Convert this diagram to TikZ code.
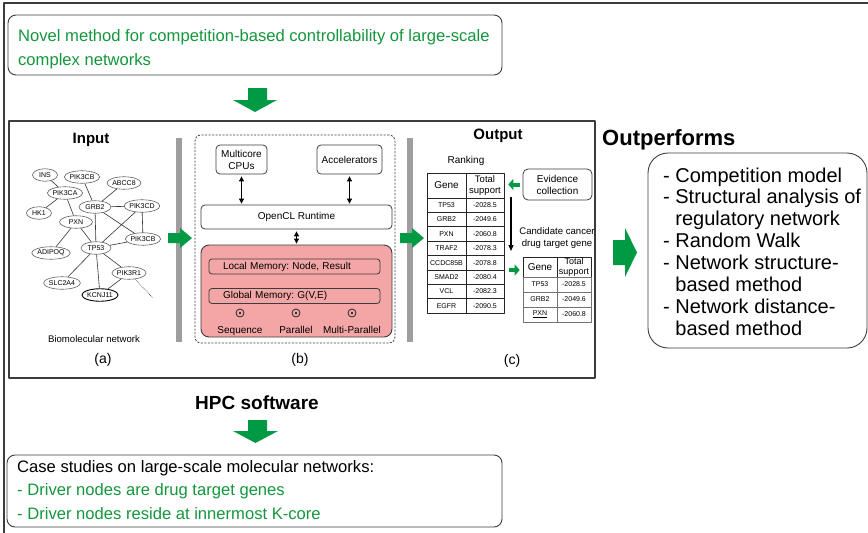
\documentclass[tikz,border=0pt]{standalone}
\usepackage{fontspec}
\setmainfont{Liberation Sans}
\usetikzlibrary{arrows.meta, shapes, positioning}

\definecolor{arrowgreen}{RGB}{0,153,68}
\definecolor{textgreen}{RGB}{20,150,60}
\definecolor{mempink}{RGB}{244,166,166}
\definecolor{bargray}{RGB}{158,158,158}
\definecolor{edgegray}{RGB}{60,60,60}

\newcommand{\pxfont}[2]{\fontsize{#1}{#2}\selectfont}

\begin{document}
\frenchspacing
\begin{tikzpicture}[
            x = 1pt, y = -1pt,
            line join = round,
            roundbox/.style = {draw = edgegray, line width = 0.9pt, rounded corners = 8pt, inner sep = 0pt},
            heading/.style = {font = \pxfont{15}{18}\bfseries},
            smallbox/.style = {draw = edgegray, line width = 0.8pt, rounded corners = 4pt,
                               align = center, inner sep = 0pt, font = \pxfont{10}{12}},
            membox/.style = {draw = edgegray, line width = 0.8pt, fill = mempink, rounded corners = 3pt,
                             minimum width = 171pt, minimum height = 15pt, text width = 143pt,
                             inner xsep = 14pt, inner ysep = 0pt, align = left, font = \pxfont{10}{12}},
            gene/.style = {ellipse, draw = gray!75!black, line width = 0.6pt, inner sep = 0pt,
                           minimum height = 12.5pt, font = \pxfont{7}{8}},
            link/.style = {draw = black!80, line width = 0.6pt},
            cell/.style = {draw = black!85, line width = 0.6pt, inner sep = 0pt, font = \pxfont{7}{8}},
            bothway/.style = {{Triangle[length = 5pt, width = 5pt]}-{Triangle[length = 5pt, width = 5pt]},
                              line width = 0.9pt, shorten < = 2pt, shorten > = 1pt},
            garrow/.style = {fill = arrowgreen},
            gsmall/.style = {draw = arrowgreen, line width = 4pt, -{Triangle[length = 5pt, width = 11pt]}}
        ]

        \useasboundingbox (0,0) rectangle (868,533);
        \draw[edgegray, line width = 1.5pt] (868,3) -- (4,3) -- (4,533);

        % top claim
        \node[roundbox, minimum width = 494pt, minimum height = 60pt] (novel) at (255,45) {};
        \node[anchor = west, align = left, inner sep = 0pt, text = textgreen, font = \pxfont{16.6}{24}] (noveltxt) at (18,49.5)
             {Novel method for competition-based controllability of large-scale\\complex networks};
        \fill[garrow] (248,88) -- (267,88) -- (267,100) -- (277,100) -- (255,112) -- (233,100) -- (248,100) -- cycle;

        % software panel
        \node[draw = edgegray, line width = 1.2pt, minimum width = 586pt, minimum height = 257pt,
              inner sep = 0pt] (hpc) at (302,249.5) {};
        \node[heading] (input) at (91,140) {Input};
        \node[heading] (output) at (498,136) {Output};
        \fill[bargray] (176,138) rectangle (182,342);
        \fill[bargray] (407,138) rectangle (413,342);

        % (a) network
        \foreach \n/\p/\t/\w in {ins/{45,175}/INS/25pt, pik3cb/{82,177}/PIK3CB/30pt, abcc8/{124,183}/ABCC8/34pt,
                                 pik3ca/{65,193}/PIK3CA/33pt, grb2/{95,207}/GRB2/32pt, pik3cd/{142,206}/PIK3CD/31pt,
                                 hk1/{39,213}/HK1/25pt, pxn/{76,222}/PXN/33pt, pik3cb2/{143,239}/PIK3CB/32pt,
                                 tp53/{96,248}/TP53/30pt, adipoq/{51,253}/ADIPOQ/35pt, pik3r1/{129,273}/PIK3R1/31pt,
                                 slc2a4/{62,283}/SLC2A4/35pt}
            \node[gene, minimum width = \w] (\n) at (\p) {\t};
        \node[gene, draw = black, line width = 0.9pt, minimum width = 34pt] (kcnj11) at (100,295) {KCNJ11};
        \coordinate (more) at (153,298);

        \draw[link] (ins) -- (pik3ca)  (pik3cb) -- (grb2)  (abcc8) -- (grb2)
                    (pik3ca) -- (hk1)  (pik3ca) -- (pxn)  (grb2) -- (pik3cd)
                    (grb2) -- (tp53)  (grb2) -- (pik3cb2)  (pik3cd) -- (pik3cb2)
                    (pik3cd) -- (tp53)  (pxn) -- (tp53)  (pxn) -- (adipoq)
                    (tp53) -- (pik3cb2)  (tp53) -- (slc2a4)  (tp53) -- (kcnj11)
                    (tp53) -- (pik3r1)  (pik3r1) -- (kcnj11);
        \draw[link, densely dotted] (pik3r1) -- (more);

        \node[font = \pxfont{9.6}{11}] (bionet) at (94,339) {Biomolecular network};
        \node[font = \pxfont{14}{16}] (laba) at (103,360) {(a)};
        \fill[garrow] (168,233) -- (180,233) -- (180,228) -- (192,238) -- (180,248) -- (180,243) -- (168,243) -- cycle;

        % (b) device
        \node[draw = edgegray, line width = 0.8pt, dash pattern = on 2pt off 1.5pt, rounded corners = 6pt,
              minimum width = 200pt, minimum height = 208pt, inner sep = 0pt] (device) at (295,239) {};
        \node[smallbox, minimum width = 51pt, minimum height = 29pt] (cpu) at (241.5,159.5) {Multicore\\CPUs};
        \node[smallbox, minimum width = 65pt, minimum height = 29pt] (acc) at (349.5,159.5) {Accelerators};
        \node[smallbox, minimum width = 191pt, minimum height = 24pt] (ocl) at (296.5,217) {OpenCL Runtime};
        \node[draw = edgegray, line width = 0.9pt, fill = mempink, rounded corners = 8pt,
              minimum width = 191pt, minimum height = 92pt, inner sep = 0pt] (kernel) at (296.5,291) {};
        \node[membox] (local) at (294.5,266.5) {Local Memory: Node, Result};
        \node[membox] (global) at (294.5,296) {Global Memory: G(V,E)};
        \foreach \n/\x/\t in {seq/240/Sequence, par/296/Parallel, mpar/352/Multi-Parallel} {
            \node[circle, draw = black!85, line width = 0.8pt, minimum size = 8pt, inner sep = 0pt] (\n) at (\x,313) {};
            \fill[black!85] (\n) circle (1.4pt);
            \node[anchor = base, font = \pxfont{10}{12}] (\n lbl) at (\x,333) {\t};
        }
        \draw[bothway] (cpu.south) -- (cpu.south |- ocl.north);
        \draw[bothway] (acc.south) -- (acc.south |- ocl.north);
        \draw[bothway] (ocl.south) -- (kernel.north);
        \node[font = \pxfont{14}{16}] (labb) at (300,360) {(b)};
        \fill[garrow] (400,233) -- (412,233) -- (412,228) -- (424,238) -- (412,248) -- (412,243) -- (400,243) -- cycle;

        % (c) ranking
        \node[font = \pxfont{10}{12}] (ranking) at (466,161) {Ranking};
        \node[cell, minimum width = 39pt, minimum height = 25pt, font = \pxfont{10}{12}] (rkh1) at (446.5,185.5) {Gene};
        \node[cell, minimum width = 38pt, minimum height = 25pt, font = \pxfont{9.5}{11}, align = center] (rkh2) at (485,185.5) {Total\\support};
        \foreach \g/\v [count=\i] in {TP53/-2028.5, GRB2/-2049.6, PXN/-2060.8, TRAF2/-2078.3,
                                      CCDC85B/-2078.8, SMAD2/-2080.4, VCL/-2082.3, EGFR/-2090.5} {
            \node[cell, minimum width = 39pt, minimum height = 14.4pt] (rkg\i) at (446.5,{198+14.375*(\i-0.5)}) {\g};
            \node[cell, minimum width = 38pt, minimum height = 14.4pt] (rkv\i) at (485,{198+14.375*(\i-0.5)}) {\v};
        }
        \node[smallbox, rounded corners = 5pt, minimum width = 69pt, minimum height = 31pt] (evid) at (557.5,184.5) {Evidence\\collection};
        \draw[gsmall, shorten < = 3pt, shorten > = 4pt] (evid.west) -- (evid.west -| rkh2.east);
        \coordinate (rktop) at (511,197);
        \coordinate (rkend) at (511,251);
        \draw[line width = 1.1pt, -{Triangle[length = 6pt, width = 5pt]}] (rktop) -- (rkend);

        \node[font = \pxfont{9.6}{12}, align = center] (cand) at (557,238) {Candidate cancer\\drug target gene};
        \node[cell, minimum width = 34pt, minimum height = 20pt, font = \pxfont{10}{12}] (cdh1) at (540,267) {Gene};
        \node[cell, minimum width = 34pt, minimum height = 20pt, font = \pxfont{9}{10}, align = center] (cdh2) at (574,267) {Total\\support};
        \foreach \g/\v [count=\i] in {TP53/-2028.5, GRB2/-2049.6, \underline{PXN}/-2060.8} {
            \node[cell, draw = black!55, minimum width = 34pt, minimum height = 15pt] (cdg\i) at (540,{277+15*(\i-0.5)}) {\g};
            \node[cell, draw = black!55, minimum width = 34pt, minimum height = 15pt] (cdv\i) at (574,{277+15*(\i-0.5)}) {\v};
        }
        \coordinate (candin) at (509,270);
        \draw[gsmall, shorten > = 3pt] (candin) -- (candin -| cdh1.west);
        \node[font = \pxfont{14}{16}] (labc) at (512,361) {(c)};

        % comparison
        \node[anchor = west, inner sep = 0pt, font = \pxfont{22}{26}\bfseries] (outperf) at (602,140) {Outperforms};
        \fill[garrow] (613,240) -- (625,240) -- (625,228) -- (637,252.5) -- (625,277) -- (625,265) -- (613,265) -- cycle;
        \node[roundbox, rounded corners = 20pt, minimum width = 219pt, minimum height = 195pt] (methods) at (757.5,250.5) {};
        \node[anchor = west, align = left, inner sep = 0pt, font = \pxfont{20}{21.9}] (methodlist) at (663,251.5)
             {- Competition model\\- Structural analysis of\\\phantom{- }regulatory network\\- Random Walk\\
              - Network structure-\\\phantom{- }based method\\- Network distance-\\\phantom{- }based method};

        % case studies
        \node[font = \pxfont{19}{22}\bfseries] (hpcsw) at (257,403) {HPC software};
        \fill[garrow] (248,420) -- (267,420) -- (267,431) -- (278,431) -- (255.5,443) -- (233,431) -- (248,431) -- cycle;
        \node[roundbox, minimum width = 495pt, minimum height = 72pt] (cases) at (254.5,491) {};
        \node[anchor = west, align = left, inner sep = 0pt, font = \pxfont{16.6}{23.5}] (casetxt) at (17,490)
             {Case studies on large-scale molecular networks:\\
              \textcolor{textgreen}{- Driver nodes are drug target genes}\\
              \textcolor{textgreen}{- Driver nodes reside at innermost K-core}};
    \end{tikzpicture}
\end{document}
